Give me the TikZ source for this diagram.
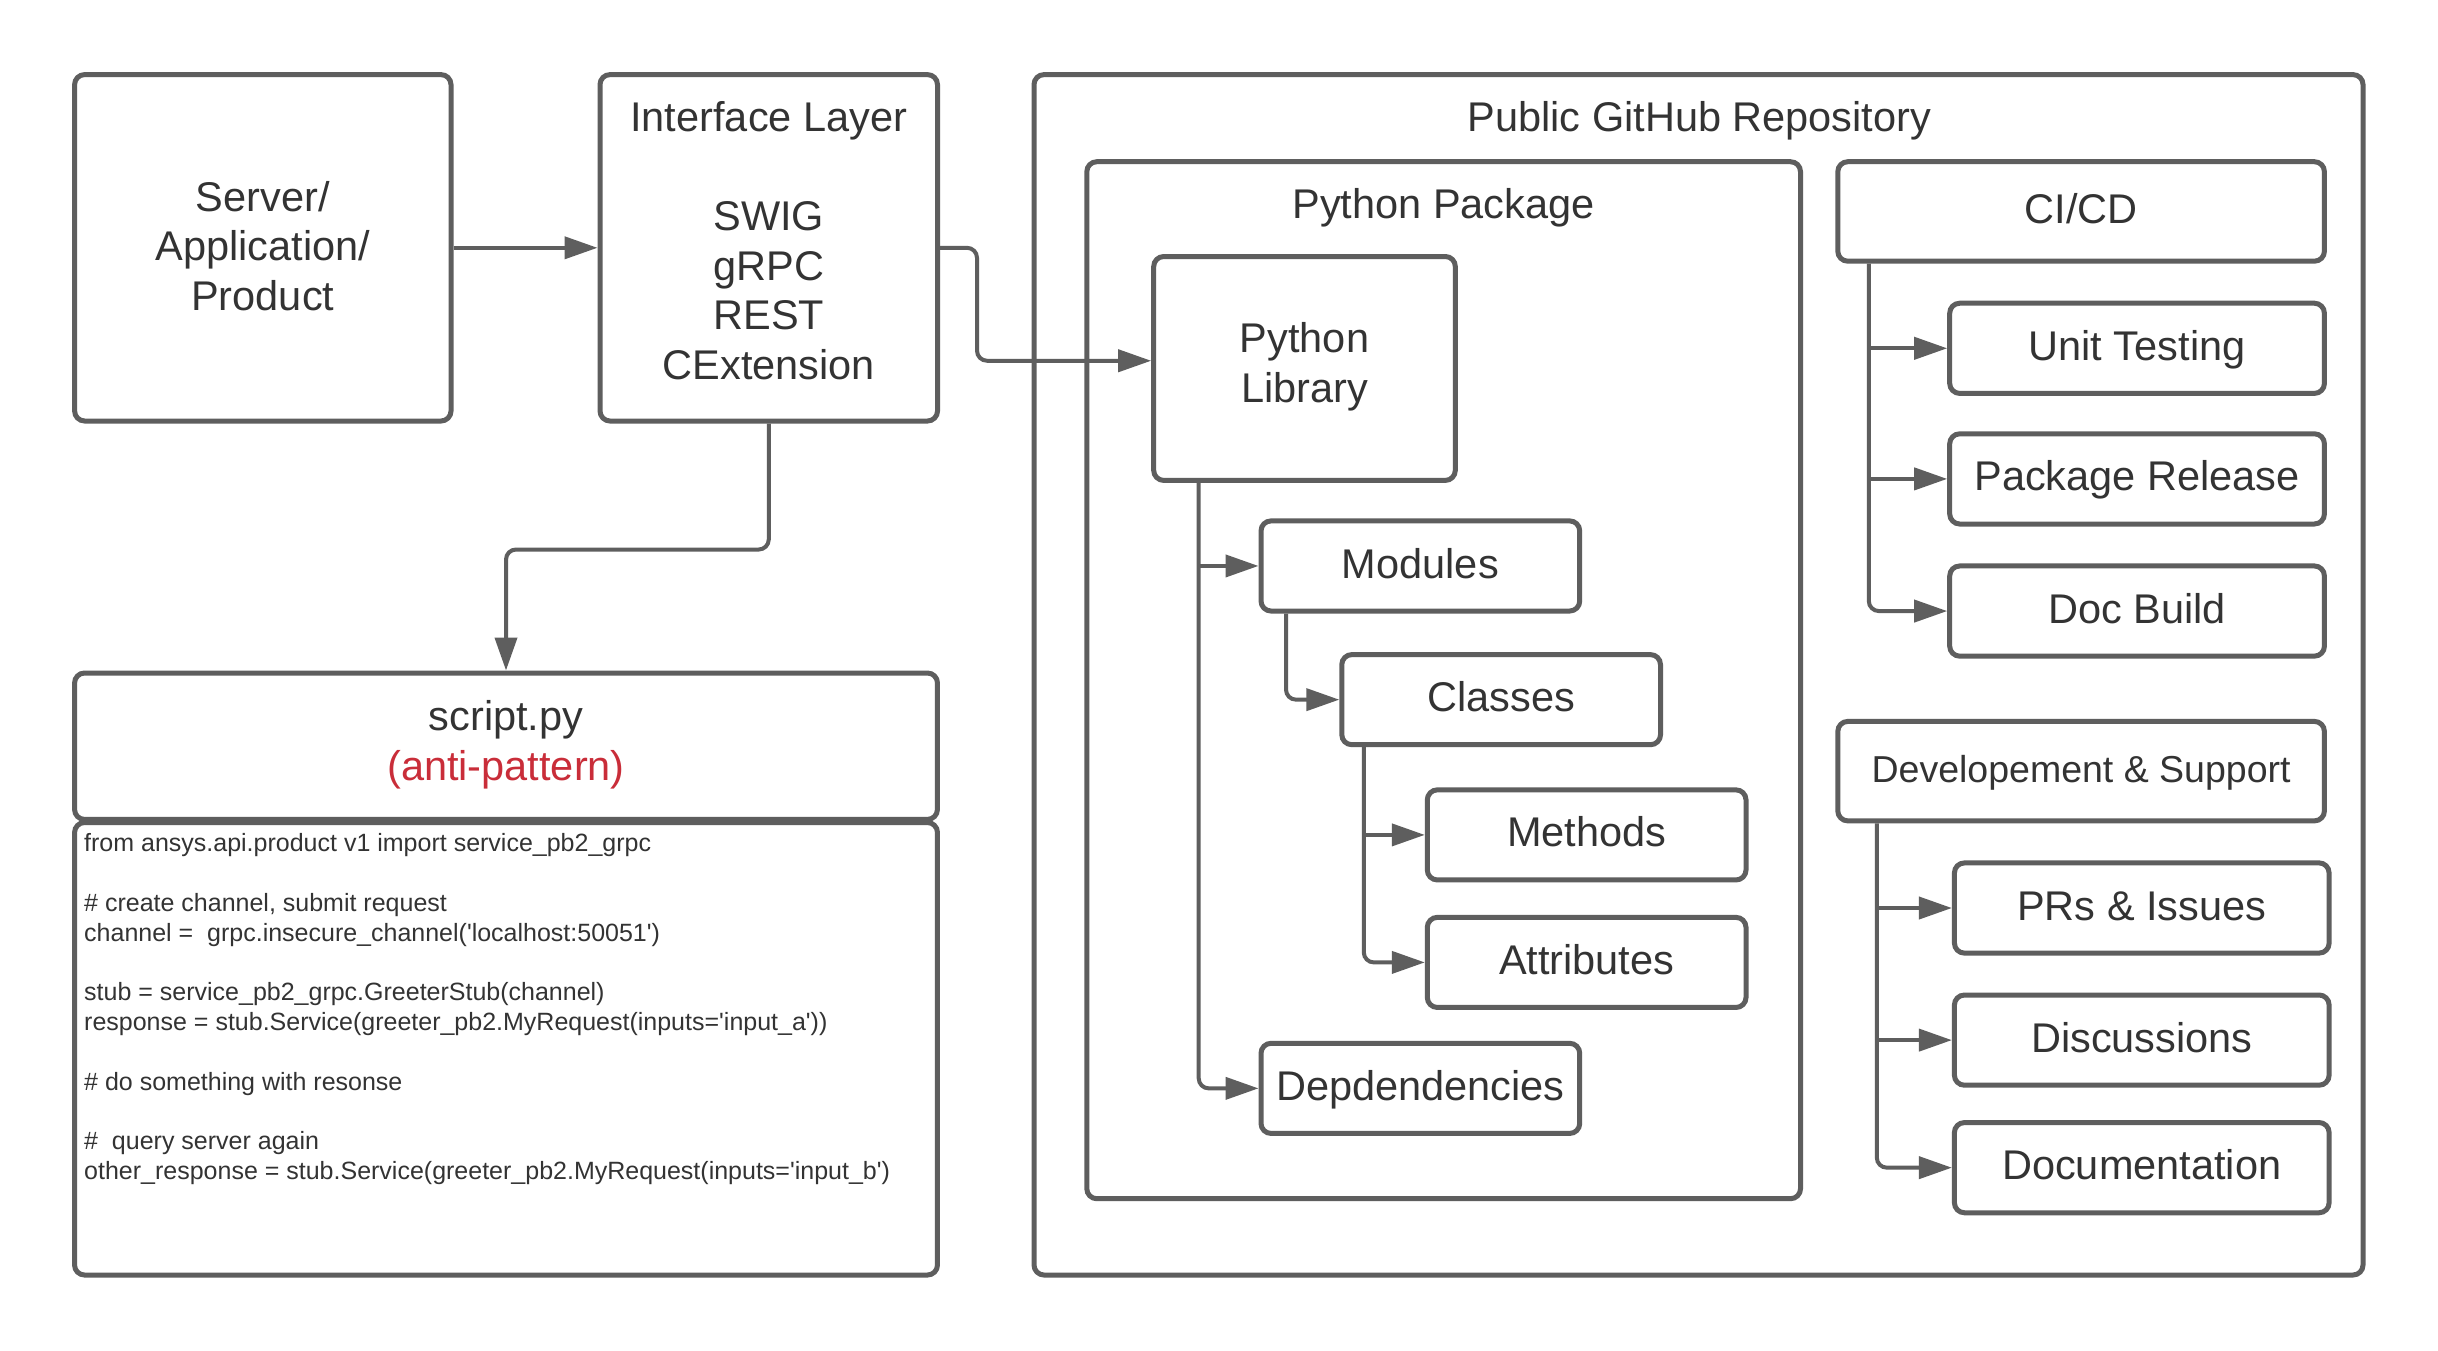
\documentclass[tikz,border=0pt]{standalone}
\usepackage{fontspec}
\setmainfont{Liberation Sans}
\usetikzlibrary{arrows.meta}
\definecolor{linec}{HTML}{5E5E5E}
\definecolor{textc}{HTML}{333333}
\definecolor{redc}{HTML}{C92D39}
\begin{document}
\begin{tikzpicture}[x=1pt,y=-1pt,
  box/.style={draw=linec, line width=5pt, rounded corners=10pt, fill=white, text=textc,
    font=\fontsize{41.5}{49.75}\selectfont, align=center, inner sep=0pt},
  one/.style={text height=30.3pt, text depth=6.2pt},
  lbl/.style={text=textc, font=\fontsize{41.5}{49.75}\selectfont, align=center, inner sep=0pt},
  codel/.style={text=textc, font=\fontsize{25}{29.8}\selectfont, anchor=base west, inner sep=0pt},
  conn/.style={draw=linec, line width=4pt, rounded corners=10pt, -{Triangle[length=33pt,width=22pt]}}]
\fill[white] (0,0) rectangle (2438,1350);
\useasboundingbox (0,0) rectangle (2438,1350);

% left column
\node[box, minimum width=376.4pt, minimum height=346.4pt] (server) at (262.8,247.8) {};
\node[lbl] (servertext) at (262.8,246) {Server/\\Application/\\Product};
\node[box, minimum width=337.5pt, minimum height=346.4pt] (iface) at (768.75,247.8) {};
\node[lbl] (ifacetitle) at (768.75,120.5) {Interface Layer};
\node[lbl] (ifacebody) at (768.75,290.6) {SWIG\\gRPC\\REST\\CExtension};

\node[box, minimum width=862.9pt, minimum height=146.4pt] (scripthead) at (506,746.2) {};
\node[lbl] (scripttext) at (506,744.5) {script.py\\\textcolor{redc}{(anti-pattern)}};
\node[box, minimum width=862.9pt, minimum height=452.5pt] (code) at (506,1048.75) {};
\node[codel] (c1) at (84,851.7) {from ansys.api.product v1 import service\_pb2\_grpc};
\node[codel] (c2) at (84,911.3) {\# create channel, submit request};
\node[codel] (c3) at (84,941.2) {channel =\ \ grpc.insecure\_channel(\textquotesingle localhost:50051\textquotesingle)};
\node[codel] (c4) at (84,1000.8) {stub = service\_pb2\_grpc.GreeterStub(channel)};
\node[codel] (c5) at (84,1030.6) {response = stub.Service(greeter\_pb2.MyRequest(inputs=\textquotesingle input\_a\textquotesingle))};
\node[codel] (c6) at (84,1090.3) {\# do something with resonse};
\node[codel] (c7) at (84,1149.9) {\#\ \ query server again};
\node[codel] (c8) at (84,1179.7) {other\_response = stub.Service(greeter\_pb2.MyRequest(inputs=\textquotesingle input\_b\textquotesingle)};

% repository
\node[box, minimum width=1329pt, minimum height=1200.4pt] (repo) at (1698.5,674.8) {};
\node[lbl] (repotitle) at (1699.4,120.5) {Public GitHub Repository};
\node[box, minimum width=713.7pt, minimum height=1037pt] (pkg) at (1443.65,680.2) {};
\node[lbl] (pkgtitle) at (1443.6,207.5) {Python Package};

\node[box, minimum width=301.6pt, minimum height=223.9pt] (lib) at (1304.5,368.45) {};
\node[lbl] (libtext) at (1304.5,366.5) {Python\\Library};
\node[box, one, minimum width=318.7pt, minimum height=90.1pt] (modules) at (1420.35,565.95) {Modules};
\node[box, one, minimum width=318.7pt, minimum height=90.1pt] (classes) at (1501.15,699.65) {Classes};
\node[box, one, minimum width=318.7pt, minimum height=90.1pt] (methods) at (1586.65,834.9) {Methods};
\node[box, one, minimum width=318.7pt, minimum height=90.1pt] (attributes) at (1586.65,962.4) {Attributes};
\node[box, one, minimum width=318.7pt, minimum height=90.1pt] (deps) at (1420.35,1088.35) {Depdendencies};

\node[box, one, minimum width=486.6pt, minimum height=99.5pt] (cicd) at (2081.1,211.45) {CI/CD};
\node[box, one, minimum width=374.7pt, minimum height=90.2pt] (unit) at (2137.05,348.3) {Unit Testing};
\node[box, one, minimum width=374.7pt, minimum height=90.2pt] (release) at (2137.05,478.9) {Package Release};
\node[box, one, minimum width=374.7pt, minimum height=90.2pt] (docb) at (2137.05,611.05) {Doc Build};

\node[box, minimum width=486.6pt, minimum height=99.5pt, font=\fontsize{37.5}{45}\selectfont, text height=27.4pt, text depth=5.6pt] (dev) at (2081.1,771.15) {Developement \& Support};
\node[box, one, minimum width=374.7pt, minimum height=90.2pt] (prs) at (2141.75,908) {PRs \& Issues};
\node[box, one, minimum width=374.7pt, minimum height=90.2pt] (disc) at (2141.75,1040.1) {Discussions};
\node[box, one, minimum width=374.7pt, minimum height=90.2pt] (docu) at (2141.75,1167.65) {Documentation};

% connectors
\draw[conn] (server.east) -- (iface.west);
\draw[conn] (iface.east) -- ++(37,0) |- ([yshift=7.7pt]lib.west);
\draw[conn] (iface.south) -- ++(0,126) -| (scripthead.north);

\coordinate (libt) at ([xshift=47.5pt]lib.south west);
\draw[conn] (libt) |- (deps.west);
\draw[conn] (libt |- modules.west) -- (modules.west);

\coordinate (modt) at ([xshift=27.5pt]modules.south west);
\draw[conn] (modt) |- (classes.west);

\coordinate (clat) at ([xshift=24.5pt]classes.south west);
\draw[conn] (clat) |- (attributes.west);
\draw[conn] (clat |- methods.west) -- (methods.west);

\coordinate (cit) at ([xshift=33.5pt]cicd.south west);
\draw[conn] (cit) |- (docb.west);
\draw[conn] (cit |- unit.west) -- (unit.west);
\draw[conn] (cit |- release.west) -- (release.west);

\coordinate (devt) at ([xshift=41.5pt]dev.south west);
\draw[conn] (devt) |- (docu.west);
\draw[conn] (devt |- prs.west) -- (prs.west);
\draw[conn] (devt |- disc.west) -- (disc.west);
\end{tikzpicture}
\end{document}
